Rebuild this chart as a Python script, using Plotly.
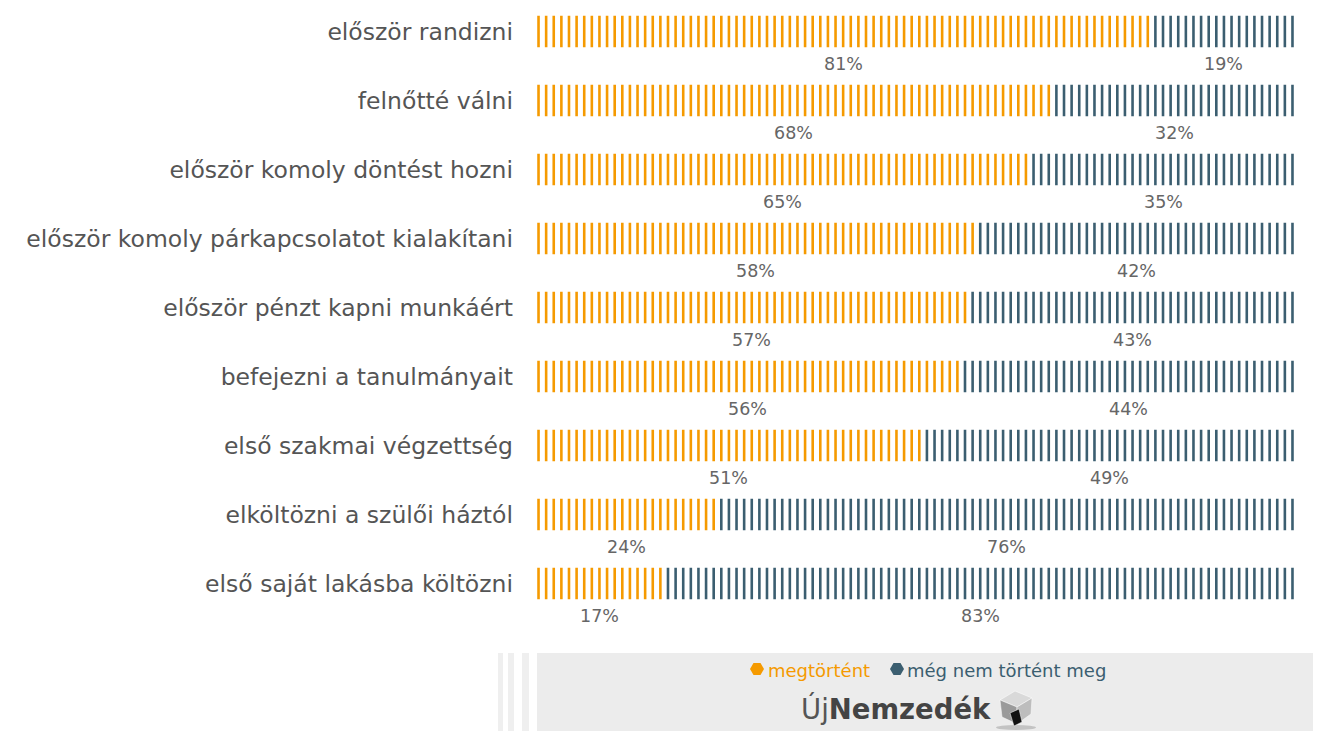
import math
import plotly.graph_objects as go

categories = [
    "először randizni",
    "felnőtté válni",
    "először komoly döntést hozni",
    "először komoly párkapcsolatot kialakítani",
    "először pénzt kapni munkáért",
    "befejezni a tanulmányait",
    "első szakmai végzettség",
    "elköltözni a szülői háztól",
    "első saját lakásba költözni",
]
happened = [81, 68, 65, 58, 57, 56, 51, 24, 17]
not_yet = [19, 32, 35, 42, 43, 44, 49, 76, 83]
series_names = ["megtörtént", "még nem történt meg"]

ORANGE = "#F59A00"
DARK = "#3B5E70"
FONT = "DejaVu Sans, sans-serif"
OFF = 8  # page offset of the figure (body margin)
W, H = 1321 - OFF, 731 - OFF
# plot area in page pixels
PL, PR, PT, PB = 537, 1294, 10, 620
L, R, T, B = PL - OFF, PR - OFF, PT - OFF, PB - OFF

# one vertical tick per percent
ox, oy, dx, dy = [], [], [], []
for i, (h, n) in enumerate(zip(happened, not_yet)):
    for k in range(h):
        ox.append(k); oy.append(i)
    for k in range(h, h + n):
        dx.append(k); dy.append(i)

fig = go.Figure()
fig.add_trace(go.Scatter(x=ox, y=oy, mode="markers", name=series_names[0], showlegend=False,
                         hoverinfo="skip",
                         marker=dict(symbol="line-ns", size=22.5, line=dict(color=ORANGE, width=2.6))))
fig.add_trace(go.Scatter(x=dx, y=dy, mode="markers", name=series_names[1], showlegend=False,
                         hoverinfo="skip",
                         marker=dict(symbol="line-ns", size=22.5, line=dict(color=DARK, width=2.6))))

# percent labels
for i, (h, n) in enumerate(zip(happened, not_yet)):
    fig.add_annotation(x=(h - 1) / 2, y=i, text=f"{h}%", showarrow=False, yshift=-32,
                       font=dict(size=17.5, color="#666666", family=FONT))
    fig.add_annotation(x=(h + h + n - 1) / 2, y=i, text=f"{n}%", showarrow=False, yshift=-32,
                       font=dict(size=17.5, color="#666666", family=FONT))


def px(x):  # page x -> paper
    return (x - PL) / (PR - PL)


def py(y):  # page y -> paper
    return (PB - y) / (PB - PT)


shapes = []
# gray footer box
shapes.append(dict(type="rect", xref="paper", yref="paper", layer="below",
                   x0=px(537), x1=px(1335), y0=py(735), y1=py(653),
                   fillcolor="#ececec", line=dict(width=0)))
for a, b in [(498, 503), (508, 514), (522, 529)]:
    shapes.append(dict(type="rect", xref="paper", yref="paper", layer="below",
                       x0=px(a), x1=px(b), y0=py(735), y1=py(653),
                       fillcolor="#efefef", line=dict(width=0)))


def pth(points):
    return "M " + " L ".join(f"{px(x)},{py(y)}" for x, y in points) + " Z"


def hexagon(cx, cy, r):
    pts = [(cx + r * math.cos(math.radians(a)), cy + r * math.sin(math.radians(a)))
           for a in range(0, 360, 60)]
    return pth(pts)


# legend (manual, hexagon markers + coloured text)
legend_items = [(757, 766, ORANGE), (897, 905, DARK)]
for (hx, tx, col), name in zip(legend_items, series_names):
    shapes.append(dict(type="path", xref="paper", yref="paper", path=hexagon(hx, 669, 7),
                       fillcolor=col, line=dict(width=0)))
    fig.add_annotation(xref="paper", yref="paper", x=px(tx), y=py(670), xanchor="left",
                       yanchor="middle", showarrow=False, text=name,
                       font=dict(size=18, color=col, family=FONT))

# cube logo
cube_faces = [
    ([(1000, 700), (1015, 691), (1032, 698), (1017, 707)], "#d9d9d9"),
    ([(1000, 700), (1017, 707), (1017, 724), (1002, 717)], "#9a9a9a"),
    ([(1017, 707), (1032, 698), (1031, 714), (1017, 724)], "#bdbdbd"),
    ([(1010, 713), (1019, 709), (1022, 722), (1014, 726)], "#111111"),
]
shapes.append(dict(type="circle", xref="paper", yref="paper",
                   x0=px(996), x1=px(1036), y0=py(730), y1=py(725),
                   fillcolor="rgba(120,120,120,0.35)", line=dict(width=0)))
for pts, col in cube_faces:
    shapes.append(dict(type="path", xref="paper", yref="paper", path=pth(pts),
                       fillcolor=col, line=dict(width=0.5, color="#ffffff")))

fig.add_annotation(xref="paper", yref="paper", x=px(993), y=py(708),
                   xanchor="right", yanchor="middle", showarrow=False,
                   text="<span style='color:#555555'>Új</span><b>Nemzedék</b>",
                   font=dict(size=27.5, color="#444444", family=FONT))

fig.update_layout(
    width=W, height=H,
    margin=dict(l=L, r=W - R, t=T, b=H - B),
    paper_bgcolor="white", plot_bgcolor="white",
    font=dict(family=FONT),
    shapes=shapes,
    showlegend=False,
    xaxis=dict(range=[-0.2, 99.2], visible=False, fixedrange=True),
    yaxis=dict(range=[8.529, -0.3116], tickmode="array", tickvals=list(range(len(categories))),
               ticktext=categories, showgrid=False, zeroline=False, showline=False,
               ticks="", ticklabelstandoff=23, tickfont=dict(size=23.5, color="#555555")),
)

fig.write_html("out.html")
